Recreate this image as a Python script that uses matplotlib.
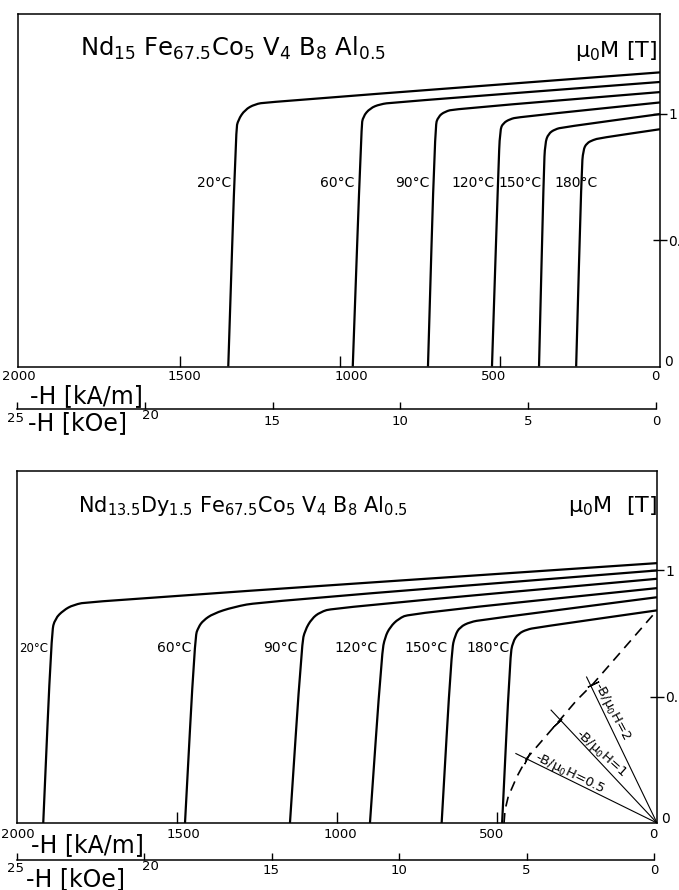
import numpy as np
import matplotlib.pyplot as plt
from matplotlib.path import Path
from matplotlib.patches import PathPatch

plt.rcParams['font.family'] = 'DejaVu Sans'
plt.rcParams['mathtext.default'] = 'regular'

FIG_W, FIG_H = 679, 890

temps = ['20°C', '60°C', '90°C', '120°C', '150°C', '180°C']

# upper alloy: -H [kA/m] and mu0*M [T]
top_H = [
    [1349, 1325, 1318, 1297, 1266, 1229, 0],
    [960, 933, 928, 906, 875, 834, 0],
    [725, 703, 693, 672, 641, 0],
    [525, 505, 500, 490, 469, 443, 0],
    [378, 363, 359, 349, 328, 302, 0],
    [262, 245, 240, 229, 208, 188, 0],
]
top_M = [
    [0, 0.937, 0.976, 1.016, 1.038, 1.046, 1.164],
    [0, 0.949, 0.989, 1.022, 1.038, 1.045, 1.126],
    [0, 0.950, 0.989, 1.009, 1.019, 1.086],
    [0, 0.778, 0.937, 0.963, 0.979, 0.987, 1.045],
    [0, 0.778, 0.884, 0.921, 0.939, 0.947, 0.999],
    [0, 0.778, 0.857, 0.884, 0.897, 0.904, 0.939],
]

# lower alloy (with Dy)
bot_H = [
    [1918, 1892, 1881, 1855, 1824, 1772, 0],
    [1475, 1444, 1433, 1418, 1387, 1324, 1241, 0],
    [1147, 1110, 1100, 1079, 1053, 1012, 0],
    [897, 860, 850, 834, 808, 772, 0],
    [673, 642, 631, 616, 584, 543, 0],
    [484, 459, 451, 433, 407, 376, 0],
]
bot_M = [
    [0, 0.756, 0.809, 0.842, 0.864, 0.877, 1.029],
    [0, 0.736, 0.776, 0.802, 0.829, 0.855, 0.875, 1.0],
    [0, 0.710, 0.763, 0.809, 0.835, 0.851, 0.967],
    [0, 0.672, 0.736, 0.776, 0.809, 0.829, 0.930],
    [0, 0.684, 0.743, 0.776, 0.796, 0.805, 0.894],
    [0, 0.657, 0.717, 0.750, 0.766, 0.774, 0.842],
]

# dashed curve and load lines -B/mu0H in the lower panel
dash_H = [478, 475, 465, 438, 407, 313, 251, 199, 0]
dash_M = [0, 0.051, 0.104, 0.183, 0.256, 0.394, 0.486, 0.552, 0.842]
load_ratio = ['2', '1', '0.5']
load_H = [220, 331, 441]
load_M = [0.578, 0.447, 0.275]
op_H = [199, 313, 407]
op_M = [0.552, 0.394, 0.256]

ka_ticks = [2000, 1500, 1000, 500, 0]
koe_ticks = [25, 20, 15, 10, 5, 0]
m_ticks = [0.5, 1]


def rect(x0, x1, y_top, y_bot):
    return [x0 / FIG_W, 1 - y_bot / FIG_H, (x1 - x0) / FIG_W, (y_bot - y_top) / FIG_H]


def smooth_curve(ax, h, m, **kw):
    # rounded corners through the read points (quadratic pieces between midpoints)
    p = np.column_stack([h, m]).astype(float)
    verts = [p[0], (p[0] + p[1]) / 2]
    codes = [Path.MOVETO, Path.LINETO]
    for i in range(1, len(p) - 1):
        verts += [p[i], (p[i] + p[i + 1]) / 2]
        codes += [Path.CURVE3, Path.CURVE3]
    verts.append(p[-1])
    codes.append(Path.LINETO)
    ax.add_patch(PathPatch(Path(verts, codes), fill=False, **kw))


fig = plt.figure(figsize=(FIG_W / 100, FIG_H / 100), dpi=100)


def panel(box, hmax, curves_H, curves_M, lab_H, lab_M, lab_ha, lab_fs,
          ka_dx, ka_dy, kbox, koe_dx, koe_dy):
    ax = fig.add_axes(box)
    ax.set_xlim(hmax, 0)
    ax.set_ylim(0, 1.395)
    for s in ax.spines.values():
        s.set_linewidth(1.1)
    for h, m in zip(curves_H, curves_M):
        smooth_curve(ax, h, m, color='black', lw=1.6, joinstyle='round')
    for t, x, y, ha, fs in zip(temps, lab_H, lab_M, lab_ha, lab_fs):
        ax.text(x, y, t, ha=ha, va='center', fontsize=fs)
    ax.set_xticks([1500, 1000, 500])
    ax.tick_params(axis='x', direction='in', length=8, width=1, labelbottom=False)
    ax.yaxis.tick_right()
    ax.set_yticks(m_ticks)
    ax.set_yticklabels(['0.5', '1'])
    ax.tick_params(axis='y', direction='inout', length=10, width=1,
                   labelsize=10, pad=1)
    ax.annotate('0', xy=(0, 0), xytext=(4, 4), textcoords='offset pixels',
                ha='left', va='center', fontsize=10)
    for v, dx, dy in zip(ka_ticks, ka_dx, ka_dy):
        ax.annotate(str(v), xy=(v, 0), xytext=(dx, dy), textcoords='offset pixels',
                    ha='center', va='center', fontsize=9.5)

    axk = fig.add_axes(kbox)
    axk.set_xlim(25, 0)
    axk.set_ylim(0, 1)
    axk.patch.set_visible(False)
    for side in ['top', 'left', 'right']:
        axk.spines[side].set_visible(False)
    axk.spines['bottom'].set_linewidth(1.1)
    axk.set_yticks([])
    axk.set_xticks(koe_ticks)
    axk.tick_params(axis='x', direction='in', length=5, width=1, labelbottom=False)
    for v, dx, dy in zip(koe_ticks, koe_dx, koe_dy):
        axk.annotate(str(v), xy=(v, 0), xytext=(dx, dy), textcoords='offset pixels',
                     ha='center', va='center', fontsize=9.5)
    return ax


# ---------------- upper panel ----------------
ax1 = panel(rect(18, 660, 14, 366.5), 2006, top_H, top_M,
            [1341, 956, 719, 517, 369, 262], [0.727] * 6,
            ['right'] * 5 + ['center'], [10] * 6,
            [-1, 4, 11, -6, -5], [-10] * 5,
            rect(17, 656, 399, 409),
            [-2, 6, -1, 0, 0, 0], [-9, -6, -12, -12, -12, -12])

fig.text(80 / FIG_W, 1 - 56 / FIG_H,
         r'Nd$_{15}$ Fe$_{67.5}$Co$_5$ V$_4$ B$_8$ Al$_{0.5}$',
         ha='left', va='baseline', fontsize=17.5)
fig.text(657 / FIG_W, 1 - 57 / FIG_H, r'$\mu_0$M [T]', ha='right', va='baseline',
         fontsize=16)
fig.text(30 / FIG_W, 1 - 396 / FIG_H, '-H [kA/m]', ha='left', va='center', fontsize=17)
fig.text(28 / FIG_W, 1 - 423 / FIG_H, '-H [kOe]', ha='left', va='center', fontsize=17)

# ---------------- lower panel ----------------
ax2 = panel(rect(17, 657, 470.7, 823), 2000, bot_H, bot_M,
            [1902, 1454, 1122, 874, 653, 459], [0.692] * 6,
            ['right'] * 6, [8.5] + [10] * 5,
            [1, 6, 3, -5, -4], [-11] * 5,
            rect(17, 654, 850, 860),
            [-2, 6, -1, 0, 0, 0], [-8, -7, -10, -10, -10, -10])

ax2.plot(dash_H, dash_M, color='black', lw=1.2, linestyle=(0, (6, 4)))
for h, m in zip(load_H, load_M):
    ax2.plot([0, h], [0, m], color='black', lw=0.8)

fig.canvas.draw()
for h0, m0, h1, m1 in zip(op_H, op_M, load_H, load_M):
    p0 = ax2.transData.transform((0, 0))
    p1 = ax2.transData.transform((h1, m1))
    ang = np.degrees(np.arctan2(p1[1] - p0[1], p1[0] - p0[0]))
    ax2.plot(h0, m0, marker=(2, 2, ang), ms=9, mew=0.9, color='black')

load_lab_H = [141, 175, 272]
load_lab_M = [0.443, 0.277, 0.194]
load_lab_rot = [-62, -42, -26]
for r, x, y, rot in zip(load_ratio, load_lab_H, load_lab_M, load_lab_rot):
    ax2.text(x, y, r'-B/$\mu_0$H=' + r, rotation=rot, ha='center', va='center',
             fontsize=9.5, rotation_mode='anchor')

fig.text(78 / FIG_W, 1 - 512 / FIG_H,
         r'Nd$_{13.5}$Dy$_{1.5}$ Fe$_{67.5}$Co$_5$ V$_4$ B$_8$ Al$_{0.5}$',
         ha='left', va='baseline', fontsize=15)
fig.text(657 / FIG_W, 1 - 512 / FIG_H, r'$\mu_0$M  [T]', ha='right', va='baseline',
         fontsize=16)
fig.text(31 / FIG_W, 1 - 845 / FIG_H, '-H [kA/m]', ha='left', va='center', fontsize=17)
fig.text(26 / FIG_W, 1 - 879 / FIG_H, '-H [kOe]', ha='left', va='center', fontsize=17)

fig.savefig('out.png', dpi=100)
